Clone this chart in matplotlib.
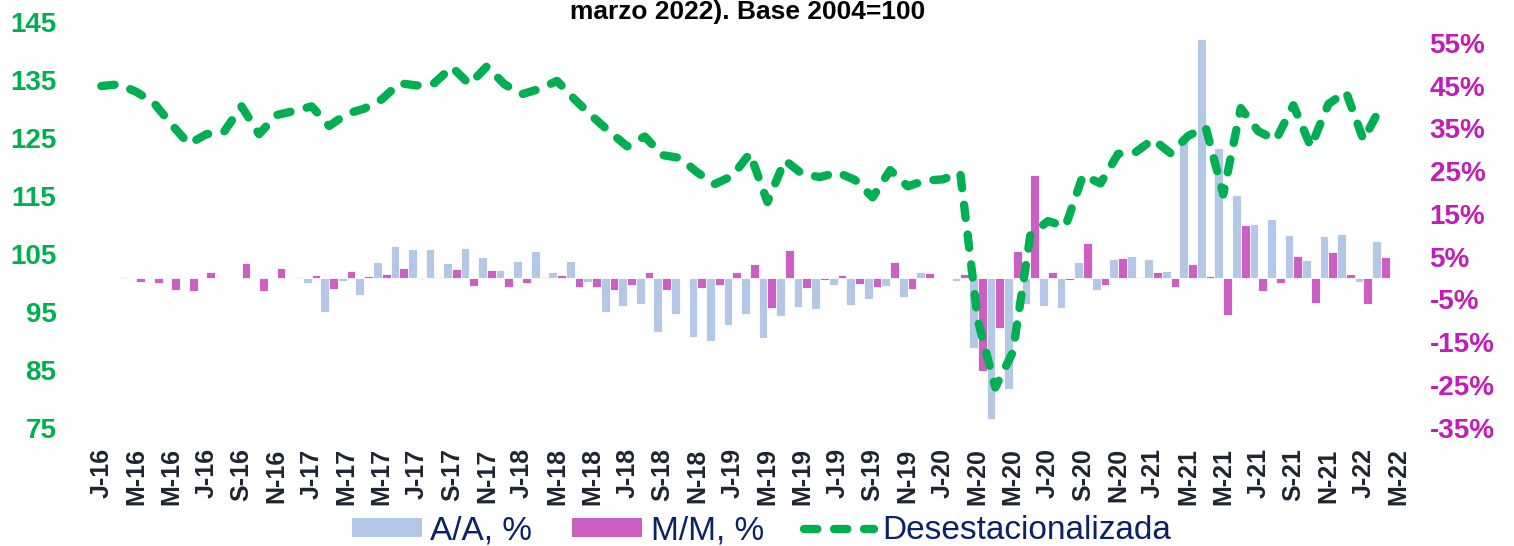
import numpy as np
import matplotlib
matplotlib.use("Agg")
import matplotlib.pyplot as plt
from matplotlib.patches import Patch
from matplotlib.lines import Line2D

plt.rcParams['font.family'] = ['Liberation Sans', 'DejaVu Sans']

# ---- data (Jan 2016 .. Mar 2022, monthly) ----
months_abbr = ['J', 'F', 'M', 'A', 'M', 'J', 'J', 'A', 'S', 'O', 'N', 'D']
years = list(range(2016, 2023))
categories = []
for y in years:
    for m in range(12):
        if y == 2022 and m > 2:
            break
        categories.append(f"{months_abbr[m]}-{str(y)[2:]}")

nan = np.nan
desest = [133.9, 134.2, 132.9, 131.0, 127.3, 123.9, 125.6, 126.0, 130.4, 125.6, 128.9, 129.6,
          130.4, 127.0, 129.1, 130.0, 131.6, 134.4, 134.0, 134.4, 137.2, 134.2, 137.3, 134.2,
          132.5, 133.4, 134.8, 131.6, 128.7, 126.0, 123.5, 125.2, 122.0, 121.5, 119.0, 117.0,
          118.4, 122.3, 113.9, 121.1, 118.7, 118.2, 119.0, 117.7, 114.7, 119.4, 116.6, 117.6,
          117.8, 118.9, 93.5, 81.9, 88.0, 108.2, 110.6, 109.7, 118.5, 117.1, 122.2, 122.5,
          124.7, 122.3, 125.3, 126.8, 115.2, 130.1, 126.1, 124.6, 130.6, 123.4, 130.8, 132.9,
          124.6, 130.4, nan]

aa = [nan] * 12 + [
    -1.2, -8.0, -0.8, -3.9, 3.8, 7.5, 6.8, 6.8, 3.6, 7.1, 5.0, 1.8,
    4.05, 6.4, 1.5, 3.9, -1.0, -8.0, -6.5, -6.2, -12.6, -8.4, -13.9, -14.8,
    -11.1, -8.4, -14.0, -8.8, -6.85, -7.2, -1.7, -6.4, -5.0, -1.9, -4.4, 1.4,
    0.1, -0.7, -16.4, -33.1, -26.1, -6.2, -6.5, -7.0, 3.8, -2.9, 4.4, 5.2,
    4.4, 1.55, 33.3, 56.0, 30.4, 19.5, 12.7, 13.8, 10.0, 4.3, 9.9, 10.2,
    -0.9, 8.6, nan]

mm = [nan, 0.3, -0.9, -1.2, -2.9, -3.0, 1.3, 0.1, 3.5, -3.1, 2.3, 0.3,
      0.8, -2.65, 1.6, 0.55, 0.93, 2.3, -0.3, 0.3, 2.0, -1.95, 1.8, -2.1,
      -1.2, 0.3, 0.8, -2.1, -2.1, -2.9, -1.6, 1.4, -2.9, 0.1, -2.3, -1.7,
      1.5, 3.35, -7.0, 6.6, -2.3, -0.4, 0.8, -1.5, -2.2, 3.7, -2.6, 1.25,
      0.1, 0.9, -21.7, -11.6, 6.4, 24.1, 1.5, -0.55, 8.3, -1.6, 4.7, 0.2,
      1.5, -2.1, 3.3, 0.5, -8.7, 12.4, -3.0, -1.1, 5.2, -5.8, 6.1, 1.0,
      -6.2, 5.0, nan]

left_ticks = [75, 85, 95, 105, 115, 125, 135, 145]
right_ticks = [-35, -25, -15, -5, 5, 15, 25, 35, 45, 55]
title_text = "marzo 2022). Base 2004=100"
legend_labels = ["A/A, %", "M/M, %", "Desestacionalizada"]

# ---- style ----
C_AA = '#B4C7E7'
C_MM = '#CC5EC4'
C_LINE = '#00B050'
C_LEFT = '#00B050'
C_RIGHT = '#C21DB6'
C_XT = '#1F2530'
C_LEG = '#0B2265'

W, H = 1514, 546
fig = plt.figure(figsize=(W / 100, H / 100), dpi=100)
x0, x1 = 92.5, 1407.3
ytop, ybot = 21.7, 427.5
axb = fig.add_axes([x0 / W, (H - ybot) / H, (x1 - x0) / W, (ybot - ytop) / H])
axl = axb.twinx()

n = len(categories)
x = np.arange(n)
aa_a = np.array(aa, dtype=float)
mm_a = np.array(mm, dtype=float)
bw = 0.5
axb.bar(x - bw / 2, aa_a, width=bw, color=C_AA, edgecolor='white', linewidth=0.6, zorder=2)
axb.bar(x + bw / 2, mm_a, width=bw, color=C_MM, edgecolor='white', linewidth=0.6, zorder=2)
axb.set_ylim(-35, 60)
axb.set_xlim(-0.5, n - 0.5)
axb.yaxis.tick_right()
axb.set_yticks(right_ticks)
axb.set_yticklabels([f"{t}%" for t in right_ticks])

axl.plot(x, desest, color=C_LINE, linewidth=6.0, linestyle=(0, (1.6, 2.0)),
         dash_capstyle='round', solid_capstyle='round', zorder=3)
axl.set_ylim(75, 145)
axl.yaxis.tick_left()
axl.set_yticks(left_ticks)
axl.set_yticklabels([str(t) for t in left_ticks])

for a in (axb, axl):
    for s in a.spines.values():
        s.set_visible(False)
    a.tick_params(axis='both', length=0)
    a.patch.set_visible(False)

for lab in axl.get_yticklabels():
    lab.set_color(C_LEFT)
    lab.set_fontweight('bold')
    lab.set_fontsize(20)
axl.tick_params(axis='y', pad=26)
for lab in axb.get_yticklabels():
    lab.set_color(C_RIGHT)
    lab.set_fontweight('bold')
    lab.set_fontsize(20)
axb.tick_params(axis='y', pad=16)

tick_pos = x[::2]
axb.set_xticks(tick_pos)
axb.set_xticklabels([categories[i] for i in tick_pos], rotation=90, fontsize=18,
                    fontweight='bold', color=C_XT)
axb.tick_params(axis='x', pad=15)

fig.text(0.494, 1 - 19 / H, title_text, ha='center', va='baseline',
         fontsize=19, fontweight='bold', color='black')

handles = [Patch(facecolor=C_AA, edgecolor='none'),
           Patch(facecolor=C_MM, edgecolor='none'),
           Line2D([0], [0], color=C_LINE, linewidth=6.0, linestyle=(0, (1.6, 2.0)),
                  dash_capstyle='round')]
fig.legend(handles, legend_labels, loc='center', bbox_to_anchor=(0.503, 0.028), ncol=3,
           frameon=False, fontsize=24, labelcolor=C_LEG, handlelength=2.1,
           handleheight=0.5, handletextpad=0.25, columnspacing=1.2, borderaxespad=0)

fig.savefig('out.png', dpi=100)
